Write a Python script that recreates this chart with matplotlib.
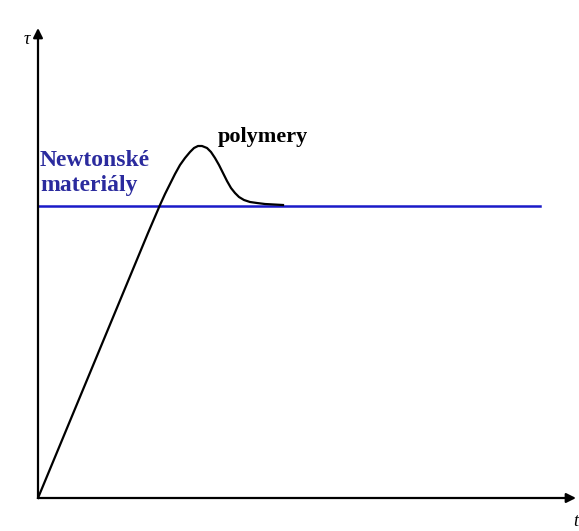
import matplotlib
matplotlib.use("Agg")
import matplotlib.pyplot as plt

# curve for polymers, arbitrary units
poly_x = [0, 110, 122, 127, 132, 137, 142, 147, 152, 156, 160, 164, 169, 173,
          177, 181, 185, 189, 193, 197, 201, 206, 212, 219, 227, 245]
poly_y = [0, 265, 293, 304, 314, 324, 333, 340, 346, 350, 352, 352, 350, 346,
          340, 333, 325, 317, 310, 305, 301, 298, 296, 295, 294, 293]

# Newtonian level
newton_x = [0, 502]
newton_y = [292, 292]

axis_x_end = 538
axis_y_end = 470

BLUE = "#1a1ac8"
TEXT_BLUE = "#2b2b9e"

fig = plt.figure(figsize=(5.79, 5.31), dpi=100)
ax = fig.add_axes([0, 0, 1, 1])
ax.set_xlim(-38, 541)
ax.set_ylim(-33, 498)
ax.axis("off")

# axes with arrows
arrow = dict(arrowstyle="-|>", color="black", lw=1.6, mutation_scale=14,
             shrinkA=0, shrinkB=0)
ax.annotate("", xy=(0, axis_y_end), xytext=(0, 0), arrowprops=arrow)
ax.annotate("", xy=(axis_x_end, 0), xytext=(0, 0), arrowprops=arrow)

ax.plot(newton_x, newton_y, color=BLUE, lw=1.8, zorder=2)
ax.plot(poly_x, poly_y, color="black", lw=1.6, zorder=3,
        solid_joinstyle="round")

serif = ["Liberation Serif", "DejaVu Serif"]
ax.text(-11, 458, "τ", fontsize=13, style="italic", family=serif,
        ha="center", va="center")
ax.text(540, -24, "t", fontsize=13, style="italic", family=serif,
        ha="right", va="center")
ax.text(180, 361, "polymery", fontsize=16, fontweight="bold", family=serif,
        ha="left", va="center")
ax.text(2, 338, "Newtonské", fontsize=17, fontweight="bold", family=serif,
        color=TEXT_BLUE, ha="left", va="center")
ax.text(2, 313, "materiály", fontsize=17, fontweight="bold", family=serif,
        color=TEXT_BLUE, ha="left", va="center")

fig.savefig("out.png", dpi=100)
